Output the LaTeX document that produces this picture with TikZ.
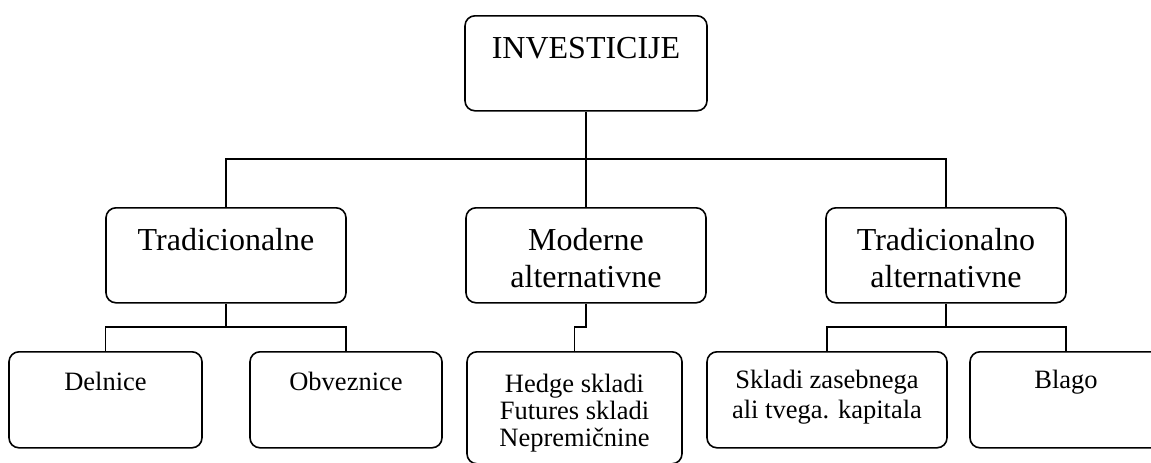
\documentclass[tikz,border=0pt]{standalone}
\usepackage{fontspec}
\setmainfont{Liberation Serif}
\usetikzlibrary{calc}

\newcommand{\vsebina}[4]{\parbox[c][#2][t]{#1}{\centering\rule{0pt}{#3}#4}}

\tikzset{
  okvir/.style={draw, rounded corners=10pt, line width=1.6pt, inner sep=0pt, anchor=north},
  velik/.style={okvir, font=\fontsize{32}{37}\selectfont},
  majhen/.style={okvir, font=\fontsize{26.5}{26.7}\selectfont},
  vez/.style={line width=1.3pt}
}

\begin{document}
\begin{tikzpicture}[x=1pt, y=-1pt]
        \useasboundingbox (0,0) rectangle (1151,463);
        \clip (0,0) rectangle (1151,463);
        % prva raven
        \node[velik] (invest) at (586,15) {\vsebina{242pt}{95pt}{43pt}{INVESTICIJE}};
        % druga raven
        \node[velik] (trad) at (226,207) {\vsebina{240pt}{95pt}{43pt}{Tradicionalne}};
        \node[velik] (moder) at (586,207) {\vsebina{240pt}{95pt}{43pt}{Moderne\\alternativne}};
        \node[velik] (tralt) at (946,207) {\vsebina{240pt}{95pt}{43pt}{Tradicionalno\\alternativne}};
        % tretja raven
        \node[majhen] (delnice) at (105.5,351) {\vsebina{193pt}{96pt}{39pt}{Delnice}};
        \node[majhen] (obvez) at (346,351) {\vsebina{192pt}{96pt}{39pt}{Obveznice}};
        \node[majhen] (hedge) at (574.5,351) {\vsebina{215pt}{112pt}{41pt}{Hedge skladi\\Futures skladi\\Nepremičnine}};
        \node[majhen, font=\fontsize{26.5}{30}\selectfont] (skladi) at (827,351) {\vsebina{240pt}{96pt}{37pt}{Skladi zasebnega\\ali tvega. kapitala}};
        \node[majhen] (blago) at (1066,351) {\vsebina{192pt}{96pt}{37pt}{Blago}};
        % povezave
        \coordinate (razcep) at (586,159);
        \coordinate (razcepa) at (226,327);
        \coordinate (razcepb) at (586,327);
        \coordinate (razcepc) at (946,327);
        \draw[vez] (invest.south) -- (razcep);
        \draw[vez] (trad.north) |- (razcep) -| (tralt.north);
        \draw[vez] (razcep) -- (moder.north);
        \draw[vez] (trad.south) -- (razcepa);
        \draw[vez] (delnice.north) |- (razcepa) -| (obvez.north);
        \draw[vez] (moder.south) -- (razcepb) -| (hedge.north);
        \draw[vez] (tralt.south) -- (razcepc);
        \draw[vez] (skladi.north) |- (razcepc) -| (blago.north);
\end{tikzpicture}
\end{document}
